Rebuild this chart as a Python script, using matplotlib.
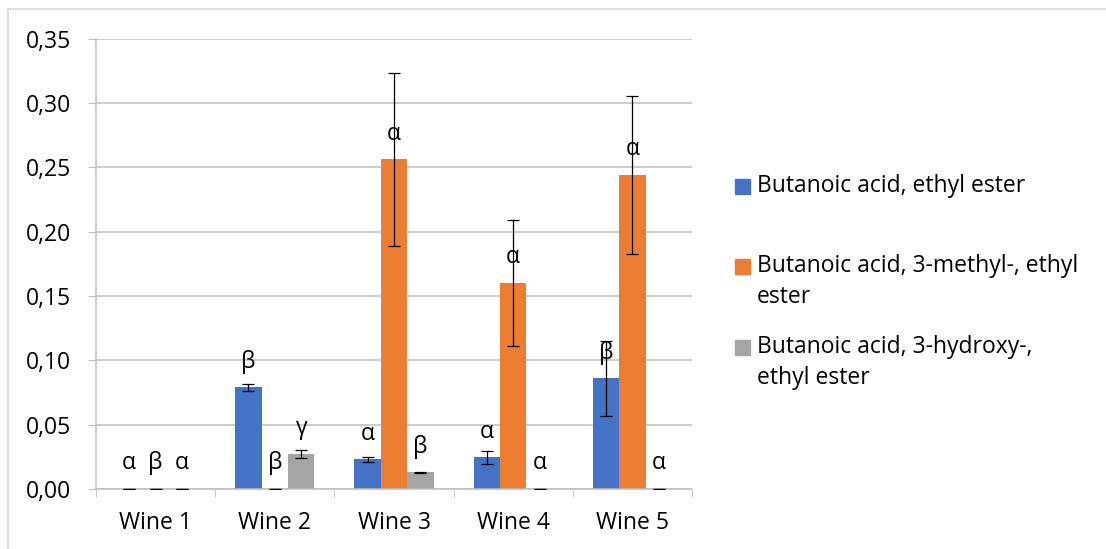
import matplotlib
matplotlib.use('Agg')
import matplotlib.pyplot as plt
from matplotlib.patches import Rectangle
from matplotlib.lines import Line2D
import numpy as np

plt.rcParams['font.family'] = ['Open Sans', 'DejaVu Sans']
FS = 16.5

wines = ['Wine 1', 'Wine 2', 'Wine 3', 'Wine 4', 'Wine 5']
series = ['Butanoic acid, ethyl ester',
          'Butanoic acid, 3-methyl-, ethyl\nester',
          'Butanoic acid, 3-hydroxy-,\nethyl ester']
colors = ['#4472C4', '#ED7D31', '#A5A5A5']

ethyl = [0.0, 0.079, 0.023, 0.0247, 0.086]
ethyl_err = [0.0, 0.0025, 0.0022, 0.005, 0.029]
methyl = [0.0, 0.0, 0.256, 0.160, 0.244]
methyl_err = [0.0, 0.0, 0.067, 0.0487, 0.0614]
hydroxy = [0.0, 0.0273, 0.013, 0.0, 0.0]
hydroxy_err = [0.0, 0.003, 0.0005, 0.0, 0.0]

# significance letters per wine, one per series
letters_ethyl = ['α', 'β', 'α', 'α', 'β']
letters_methyl = ['β', 'β', 'α', 'α', 'α']
letters_hydroxy = ['α', 'γ', 'β', 'α', 'α']

values = [ethyl, methyl, hydroxy]
errors = [ethyl_err, methyl_err, hydroxy_err]
letters = [letters_ethyl, letters_methyl, letters_hydroxy]

fig = plt.figure(figsize=(11.06, 5.49), dpi=100)
ax = fig.add_axes([96/1106, 1-489/549, (692-96)/1106, (489-38.5)/549])

x = np.arange(len(wines))
w = 0.222
for i in range(3):
    pos = x + (i - 1) * w
    ax.bar(pos, values[i], w, color=colors[i], zorder=2)
    ax.errorbar(pos, values[i], yerr=errors[i], fmt='none', ecolor='black',
                elinewidth=0.9, capsize=4.5, capthick=0.9, zorder=3)
    for p, v, t in zip(pos, values[i], letters[i]):
        ax.annotate(t, (p, v), xytext=(0, 18.5), textcoords='offset points',
                    ha='center', va='center', fontsize=FS, color='black', zorder=4)

ax.set_xlim(-0.5, len(wines) - 0.5)
ax.set_ylim(0, 0.35)
ticks = np.arange(0, 0.351, 0.05)
ax.set_yticks(ticks)
ax.set_yticklabels([f'{t:.2f}'.replace('.', ',') for t in ticks])
ax.set_xticks(x)
ax.set_xticklabels(wines)
ax.set_xticks(np.arange(-0.5, len(wines), 1), minor=True)
ax.tick_params(axis='x', which='major', length=0, pad=16, labelsize=FS)
ax.tick_params(axis='x', which='minor', length=6, color='#BFBFBF', direction='out')
ax.tick_params(axis='y', length=6, color='#BFBFBF', pad=12, labelsize=FS)
ax.yaxis.grid(True, color='#BFBFBF', linewidth=1.1, zorder=0)
ax.set_axisbelow(True)
for s in ['top', 'right']:
    ax.spines[s].set_visible(False)
for s in ['left', 'bottom']:
    ax.spines[s].set_color('#BFBFBF')
    ax.spines[s].set_linewidth(1.1)

# legend drawn by hand so the swatch sits on the first text line
leg_rows = [186, 266, 347]
line_gap = 31
for c, lab, yy in zip(colors, series, leg_rows):
    fig.patches.append(Rectangle((735/1106, 1-(yy+7.5)/549), 15/1106, 15/549,
                                 transform=fig.transFigure, color=c))
    for k, part in enumerate(lab.split('\n')):
        fig.text(757/1106, 1-(yy + k*line_gap)/549, part, ha='left', va='center',
                 fontsize=FS, transform=fig.transFigure)

# thin chart-area frame
fig.lines.append(Line2D([8/1106, 8/1106], [0, 1-9/549], color='#D9D9D9', lw=1.2,
                        transform=fig.transFigure))
fig.lines.append(Line2D([8/1106, 1], [1-9/549, 1-9/549], color='#D9D9D9', lw=1.2,
                        transform=fig.transFigure))

fig.savefig('out.png', dpi=100)
plt.close(fig)
